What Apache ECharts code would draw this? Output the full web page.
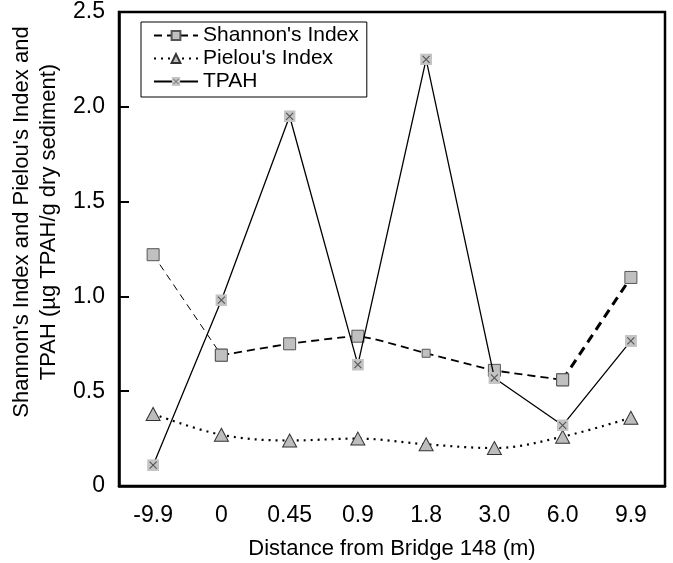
<!DOCTYPE html>
<html>
<head>
<meta charset="utf-8">
<script src="https://cdn.jsdelivr.net/npm/echarts@6/dist/echarts.min.js"></script>
<style>
  html, body { margin: 0; padding: 0; background: #fff; }
  #chart { width: 673px; height: 563px; }
</style>
</head>
<body>
<div id="chart"></div>
<script>
// distance from bridge (m)
const distances = ['-9.9', '0', '0.45', '0.9', '1.8', '3.0', '6.0', '9.9'];
const shannon = [1.22, 0.69, 0.75, 0.79, 0.70, 0.61, 0.56, 1.10];
const pielou = [0.38, 0.27, 0.24, 0.25, 0.22, 0.20, 0.26, 0.36];
const tpah = [0.11, 0.98, 1.95, 0.64, 2.25, 0.57, 0.32, 0.765];
const yTicks = [0, 0.5, 1.0, 1.5, 2.0, 2.5];

const FONT = '"Liberation Sans", Arial, sans-serif';

// grey square with an X, like the TPAH marker
const xSvg = '<svg xmlns="http://www.w3.org/2000/svg" width="12" height="12">' +
  '<rect width="12" height="12" fill="#c4c4c4"/>' +
  '<path d="M2.5 2.5 L9.5 9.5 M9.5 2.5 L2.5 9.5" stroke="#555" stroke-width="1.1"/></svg>';
const X_SYMBOL = 'image://data:image/svg+xml;utf8,' + encodeURIComponent(xSvg);

// keep only a range of points so one line can change dash weight part way
const slice = (arr, from, to) => arr.map((v, i) => (i >= from && i <= to ? v : '-'));

const squareStyle = { color: '#c0c0c0', borderColor: '#555', borderWidth: 1 };
const squareSize = (v, p) => (p.dataIndex === 4 ? 8 : 12);

const chart = echarts.init(document.getElementById('chart'));

chart.setOption({
  animation: false,
  textStyle: { fontFamily: FONT },
  grid: {
    left: 119, top: 12, width: 546, height: 474,
    outerBoundsMode: 'none',
    show: true, borderColor: '#000', borderWidth: 2.5,
  },
  legend: {
    orient: 'vertical',
    left: 141, top: 22,
    padding: [3, 8, 5, 12],
    itemGap: 2,
    itemWidth: 44, itemHeight: 11,
    borderColor: '#000', borderWidth: 1,
    textStyle: { fontFamily: FONT, fontSize: 21, color: '#000' },
    data: ["Shannon's Index", "Pielou's Index", 'TPAH'],
  },
  xAxis: {
    type: 'category',
    data: distances,
    name: 'Distance from Bridge 148 (m)',
    nameLocation: 'middle',
    nameGap: 52,
    nameTextStyle: { fontFamily: FONT, fontSize: 22, color: '#000' },
    axisLine: { lineStyle: { color: '#000', width: 2.5 } },
    axisTick: { inside: true, length: 8, lineStyle: { color: '#000', width: 2 } },
    axisLabel: { fontFamily: FONT, fontSize: 23, color: '#000', margin: 18 },
    splitLine: { show: false },
  },
  yAxis: {
    type: 'value',
    min: 0, max: 2.5, interval: 0.5,
    name: "Shannon's Index and Pielou's Index and\nTPAH (µg TPAH/g dry sediment)",
    nameLocation: 'middle',
    nameGap: 57,
    nameRotate: 90,
    nameTextStyle: {
      fontFamily: FONT, fontSize: 22, color: '#000', lineHeight: 27,
      padding: [0, 0, 0, 54],
    },
    axisLine: { show: true, lineStyle: { color: '#000', width: 2.5 } },
    axisTick: { show: true, inside: true, length: 10, lineStyle: { color: '#000', width: 2 } },
    axisLabel: {
      fontFamily: FONT, fontSize: 23, color: '#000', margin: 14,
      formatter: v => (yTicks.includes(v) && v !== 0 ? v.toFixed(1) : String(v)),
    },
    splitLine: { show: false },
  },
  series: [
    {
      name: "Shannon's Index",
      type: 'line',
      data: slice(shannon, 1, 6),
      smooth: 0.15,
      symbol: 'rect', symbolSize: squareSize,
      itemStyle: squareStyle,
      lineStyle: { color: '#000', width: 1.8, type: [8, 5] },
      z: 2,
    },
    {
      name: "Shannon's Index",
      type: 'line',
      data: slice(shannon, 0, 1),
      symbol: 'rect', symbolSize: 12,
      itemStyle: squareStyle,
      lineStyle: { color: '#000', width: 1, type: [7, 5] },
      z: 2,
    },
    {
      name: "Shannon's Index",
      type: 'line',
      data: slice(shannon, 6, 7),
      symbol: 'rect', symbolSize: 12,
      itemStyle: squareStyle,
      lineStyle: { color: '#000', width: 3, type: [9, 6] },
      z: 2,
    },
    {
      name: "Pielou's Index",
      type: 'line',
      data: pielou,
      smooth: 0.35,
      symbol: 'triangle', symbolSize: [14, 13],
      itemStyle: { color: '#bdbdbd', borderColor: '#333', borderWidth: 1 },
      lineStyle: { color: '#000', width: 2.2, type: [2, 5] },
      z: 3,
    },
    {
      name: 'TPAH',
      type: 'line',
      data: tpah,
      symbol: X_SYMBOL, symbolSize: 12,
      itemStyle: { color: '#c4c4c4' },
      lineStyle: { color: '#000', width: 1.3 },
      z: 4,
    },
  ],
});
</script>
</body>
</html>
